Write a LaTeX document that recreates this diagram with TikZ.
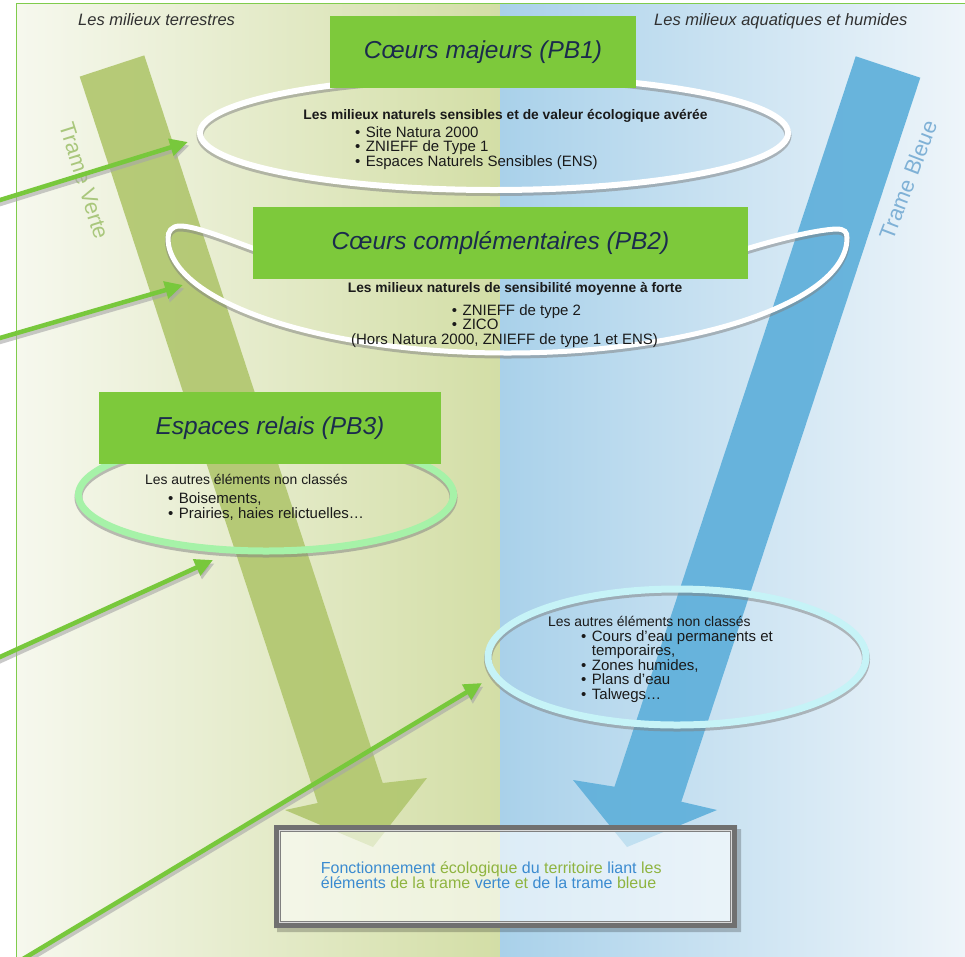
\documentclass[tikz,border=0pt]{standalone}
\usepackage{fontspec}
\setmainfont{Liberation Sans}
\usetikzlibrary{arrows.meta}

\definecolor{frameGreen}{HTML}{80CC4C}
\definecolor{bgGreenL}{HTML}{F6F8EE}
\definecolor{bgGreenR}{HTML}{D3DEA6}
\definecolor{bgBlueL}{HTML}{A9D1EA}
\definecolor{bgBlueR}{HTML}{EEF5FA}
\definecolor{bandGreen}{HTML}{B3C872}
\definecolor{bandBlue}{HTML}{62B1DB}
\definecolor{labGreen}{HTML}{A9C77C}
\definecolor{labBlue}{HTML}{7FB1D6}
\definecolor{titleGreen}{HTML}{7DC93B}
\definecolor{titleInk}{HTML}{1B2B4D}
\definecolor{ink}{HTML}{1A1A1A}
\definecolor{mintRing}{HTML}{A6F2A8}
\definecolor{cyanRing}{HTML}{C6F3F7}
\definecolor{arrowGreen}{HTML}{78C83C}
\definecolor{boxGray}{HTML}{707070}
\definecolor{wordBlue}{HTML}{3B8BD0}
\definecolor{wordGreen}{HTML}{8FB440}

\newcommand{\pbul}{\makebox[10.7pt][l]{\textbullet}}

\begin{document}
\begin{tikzpicture}[x=1pt, y=-1pt,
  titlebox/.style={fill=titleGreen, inner sep=0pt, minimum height=72pt, text=titleInk,
    font=\fontsize{24.5}{28}\selectfont\itshape},
  pbhead/.style={inner sep=0pt, anchor=base, text=ink, font=\fontsize{13.8}{14.5}\selectfont\bfseries},
  plainhead/.style={inner sep=0pt, anchor=base west, text=ink, font=\fontsize{13.9}{14.5}\selectfont},
  pbitem/.style={inner sep=0pt, anchor=base west, text=ink, font=\fontsize{15}{14.5}\selectfont},
  sidelabel/.style={inner sep=0pt, anchor=base west, text=ink!90, font=\fontsize{16.5}{20}\selectfont\itshape},
  bandlabel/.style={inner sep=0pt, font=\fontsize{22}{26}\selectfont},
  ringshadow/.style={draw=black!50, opacity=0.5},
  greenlink/.style={draw=arrowGreen, line width=4.5pt, -{Triangle[length=18pt,width=17pt]}},
  linkshade/.style={draw=black!35, opacity=0.6, line width=4.5pt, -{Triangle[length=18pt,width=17pt]}},
]
\useasboundingbox (0,0) rectangle (965,956);

% background halves and frame
\fill[white] (0,0) rectangle (965,956);
\shade[left color=bgGreenL, right color=bgGreenR] (16.5,3.5) rectangle (500,956);
\shade[left color=bgBlueL, right color=bgBlueR] (500,3.5) rectangle (965,956);
\draw[frameGreen, line width=1.3pt] (16.5,958) -- (16.5,3.5) -- (967,3.5);

% the two broad arrows
\fill[bandGreen, opacity=0.95] (79.7,76.6) -- (144.3,55.4) -- (382.7,783) -- (427,778)
  -- (373,847) -- (285,810) -- (317.7,803) -- cycle;
\fill[bandBlue, opacity=0.95] (855.7,56.3) -- (920.3,77.7) -- (681.3,801.7) -- (717,810)
  -- (627,847) -- (573,780) -- (614.5,786.7) -- cycle;

\node[bandlabel, text=labGreen, rotate=-72.5] (tverte) at (84,181) {Trame Verte};
\node[bandlabel, text=labBlue, rotate=69] (tbleue) at (908,180) {Trame Bleue};

% ring around the major cores
\draw[ringshadow, line width=7pt] (494,135.5) ellipse [x radius=294, y radius=57];
\draw[white, line width=6pt] (494,133) ellipse [x radius=294, y radius=57];

% bowl around the complementary cores
\begin{scope}[yshift=-2.5pt]
\draw[ringshadow, line width=6pt] (255,249) .. controls (225,238) and (195,226) .. (180,226)
  .. controls (171,226) and (168,232) .. (168,238)
  arc[start angle=180, end angle=0, x radius=339.5, y radius=115]
  .. controls (847,232) and (845,229) .. (836,229) .. controls (815,230) and (775,240) .. (746,249);
\end{scope}
\draw[white, line width=5pt] (255,249) .. controls (225,238) and (195,226) .. (180,226)
  .. controls (171,226) and (168,232) .. (168,238)
  arc[start angle=180, end angle=0, x radius=339.5, y radius=115]
  .. controls (847,232) and (845,229) .. (836,229) .. controls (815,230) and (775,240) .. (746,249);

% rings of the relay spaces
\draw[ringshadow, line width=8pt] (266,497.5) ellipse [x radius=187.5, y radius=56];
\draw[mintRing, line width=7pt] (266,495) ellipse [x radius=187.5, y radius=56];
\draw[ringshadow, line width=8pt] (677,659.5) ellipse [x radius=189, y radius=68];
\draw[cyanRing, line width=7pt] (677,657) ellipse [x radius=189, y radius=68];

% title boxes
\node[titlebox, minimum width=306pt] (pb1) at (483,52) {Cœurs majeurs (PB1)};
\node[titlebox, minimum width=495pt] (pb2) at (500.5,243) {Cœurs complémentaires (PB2)};
\node[titlebox, minimum width=342pt] (pb3) at (270,428) {Espaces relais (PB3)};

% column headings
\node[sidelabel] (lterr) at (78,25.5) {Les milieux terrestres};
\node[sidelabel] (laqua) at (654,25.5) {Les milieux aquatiques et humides};

% PB1 contents
\node[pbhead] (h1) at (505.5,119.5) {Les milieux naturels sensibles et de valeur écologique avérée};
\node[pbitem] (i11) at (355,137.5) {\pbul Site Natura 2000};
\node[pbitem] (i12) at (355,151.8) {\pbul ZNIEFF de Type 1};
\node[pbitem] (i13) at (355,166) {\pbul Espaces Naturels Sensibles (ENS)};

% PB2 contents
\node[pbhead] (h2) at (515,292.7) {Les milieux naturels de sensibilité moyenne à forte};
\node[pbitem] (i21) at (451.7,315) {\pbul ZNIEFF de type 2};
\node[pbitem] (i22) at (451.7,329.5) {\pbul ZICO};
\node[pbitem, anchor=base] (i23) at (504.5,344.5) {(Hors Natura 2000, ZNIEFF de type 1 et ENS)};

% PB3 contents
\node[plainhead] (h3) at (145,484) {Les autres éléments non classés};
\node[pbitem] (i31) at (168,503.5) {\pbul Boisements,};
\node[pbitem] (i32) at (168,518.3) {\pbul Prairies, haies relictuelles…};

% aquatic contents
\node[plainhead] (h4) at (548,626) {Les autres éléments non classés};
\node[pbitem] (i41) at (581,641) {\pbul Cours d'eau permanents et};
\node[pbitem] (i42) at (591.7,655.5) {temporaires,};
\node[pbitem] (i43) at (581,670) {\pbul Zones humides,};
\node[pbitem] (i44) at (581,684.5) {\pbul Plans d'eau};
\node[pbitem] (i45) at (581,699) {\pbul Talwegs…};

% thin green pointers
\coordinate (a1s) at (-6,201.9); \coordinate (a1e) at (188,142);
\coordinate (a2s) at (-6,339.7); \coordinate (a2e) at (183,285);
\coordinate (a3s) at (-6,659.7); \coordinate (a3e) at (213,560);
\coordinate (a4s) at (18,962);   \coordinate (a4e) at (482,683);
\begin{scope}[transform canvas={xshift=1.5pt, yshift=-3.5pt}]
  \foreach \s/\e in {a1s/a1e,a2s/a2e,a3s/a3e,a4s/a4e} \draw[linkshade] (\s) -- (\e);
\end{scope}
\foreach \s/\e in {a1s/a1e,a2s/a2e,a3s/a3e,a4s/a4e} \draw[greenlink] (\s) -- (\e);

% bottom framed box
\fill[black, opacity=0.22, even odd rule] (277,829) rectangle (741,932) (274,825) rectangle (737,928);
\node[fill=white, fill opacity=0.6, minimum width=463pt, minimum height=103pt, inner sep=0pt]
  (fbox) at (505.5,876.5) {};
\draw[boxGray, line width=5pt] ([shift={(2.5,2.5)}]fbox.north west) rectangle ([shift={(-2.5,-2.5)}]fbox.south east);
\draw[black!15, line width=1.2pt] ([shift={(5.6,5.6)}]fbox.north west) rectangle ([shift={(-5.6,-5.6)}]fbox.south east);
\draw[black!50, line width=1.3pt] ([shift={(7,7)}]fbox.north west) rectangle ([shift={(-7,-7)}]fbox.south east);

\node[inner sep=0pt, anchor=base west, font=\fontsize{16}{15}\selectfont] (f1) at (320.7,873.5)
  {\color{wordBlue}Fonctionnement \color{wordGreen}écologique \color{wordBlue}du \color{wordGreen}territoire \color{wordBlue}liant \color{wordGreen}les};
\node[inner sep=0pt, anchor=base west, font=\fontsize{16}{15}\selectfont] (f2) at (320.7,888.5)
  {\color{wordBlue}éléments \color{wordGreen}de la trame \color{wordBlue}verte \color{wordGreen}et \color{wordBlue}de la trame \color{wordGreen}bleue};
\end{tikzpicture}
\end{document}
